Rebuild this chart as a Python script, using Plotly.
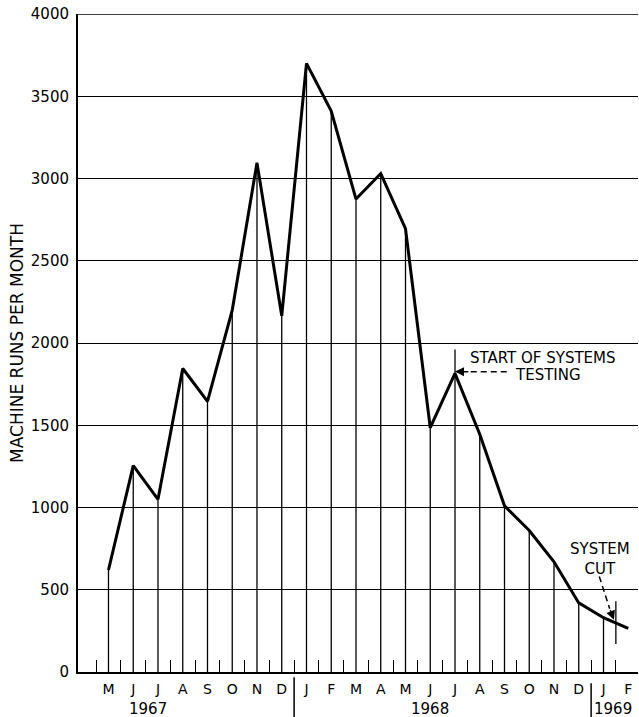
import plotly.graph_objects as go

# month letters, May 1967 .. Feb 1969
months = ["M", "J", "J", "A", "S", "O", "N", "D",
          "J", "F", "M", "A", "M", "J", "J", "A", "S", "O", "N", "D",
          "J", "F"]
runs = [620, 1255, 1050, 1845, 1645, 2200, 3095, 2165,
        3700, 3410, 2875, 3030, 2695, 1485, 1815, 1445, 1010, 860, 670, 420,
        330, 265]
years = ["1967", "1968", "1969"]
year_label_x = [1.6, 13.0, 20.4]
year_breaks = [7.5, 19.5]

# annotation markers (data coords)
testing_idx, testing_top = 14, 1960
cut_x, cut_lo, cut_hi = 20.5, 170, 430

x = list(range(len(months)))

fig = go.Figure()

# drop lines from each monthly point to the axis (no line at the last month)
dx, dy = [], []
for i, v in zip(x[:-1], runs[:-1]):
    dx += [i, i, None]
    dy += [0, v, None]
# july 1968 line runs up past the peak as a pointer
dx += [testing_idx, testing_idx, None]
dy += [runs[testing_idx], testing_top, None]
# system cut mark
dx += [cut_x, cut_x, None]
dy += [cut_lo, cut_hi, None]
fig.add_trace(go.Scatter(x=dx, y=dy, mode="lines",
                         line=dict(color="black", width=1.3),
                         hoverinfo="skip", showlegend=False))

fig.add_trace(go.Scatter(x=x, y=runs, mode="lines",
                         line=dict(color="black", width=3),
                         showlegend=False))

# dashed arrow shafts
fig.add_trace(go.Scatter(x=[16.09, 14.6], y=[1825, 1825], mode="lines",
                         line=dict(color="black", width=1.5, dash="6px,4px"),
                         hoverinfo="skip", showlegend=False))
fig.add_trace(go.Scatter(x=[19.83, 20.25], y=[581, 385], mode="lines",
                         line=dict(color="black", width=1.5, dash="6px,4px"),
                         hoverinfo="skip", showlegend=False))

txt = dict(family="DejaVu Sans", size=15, color="black")
anns = [
    dict(x=17.55, y=1910, text="START OF SYSTEMS", showarrow=False, font=txt),
    dict(x=17.74, y=1806, text="TESTING", showarrow=False, font=txt),
    dict(x=19.86, y=685, text="SYSTEM<br>CUT", showarrow=False, font=txt),
    # arrow heads
    dict(x=14.0, y=1826, ax=14.6, ay=1825, axref="x", ayref="y", text="",
         showarrow=True, arrowhead=2, arrowsize=1.2, arrowwidth=1.5, arrowcolor="black"),
    dict(x=20.42, y=318, ax=20.25, ay=385, axref="x", ayref="y", text="",
         showarrow=True, arrowhead=2, arrowsize=1.2, arrowwidth=1.5, arrowcolor="black"),
]
for yr, xp in zip(years, year_label_x):
    anns.append(dict(x=xp, y=-0.056, yref="paper", yanchor="middle", text=yr,
                     showarrow=False, font=txt))

shapes = [dict(type="line", xref="x", yref="paper", x0=b, x1=b,
               y0=-0.008 - 0.009 * k, y1=-0.07,
               line=dict(color="black", width=1.5))
          for k, b in enumerate(year_breaks)]
# top rule at 4000
shapes.append(dict(type="line", xref="paper", yref="y", x0=0, x1=1, y0=4000, y1=4000,
                   line=dict(color="black", width=1.6)))

fig.update_layout(
    width=639, height=717,
    margin=dict(l=78, r=1, t=14, b=45),
    paper_bgcolor="white", plot_bgcolor="white",
    font=dict(family="DejaVu Sans", color="black"),
    annotations=anns, shapes=shapes,
    showlegend=False,
)

fig.update_xaxes(
    range=[-1.232, 21.394],
    tickmode="array", tickvals=x, ticktext=months,
    ticks="", tickfont=dict(size=14), ticklabelstandoff=3,
    showgrid=False, zeroline=False,
    showline=True, linecolor="black", linewidth=2,
    minor=dict(tickmode="linear", tick0=-0.5, dtick=1, ticks="inside",
               ticklen=12, tickwidth=1.3, tickcolor="black", showgrid=False),
)
fig.update_yaxes(
    range=[0, 4000], dtick=500, ticks="",
    tickfont=dict(size=15), ticklabelstandoff=4,
    showgrid=True, gridcolor="black", gridwidth=1.4,
    zeroline=False,
    showline=True, linecolor="black", linewidth=2,
    title=dict(text="MACHINE RUNS PER MONTH", font=dict(size=17), standoff=3),
)

fig.write_html("out.html", config={"displayModeBar": False},
               post_script="document.body.style.margin='0';")
